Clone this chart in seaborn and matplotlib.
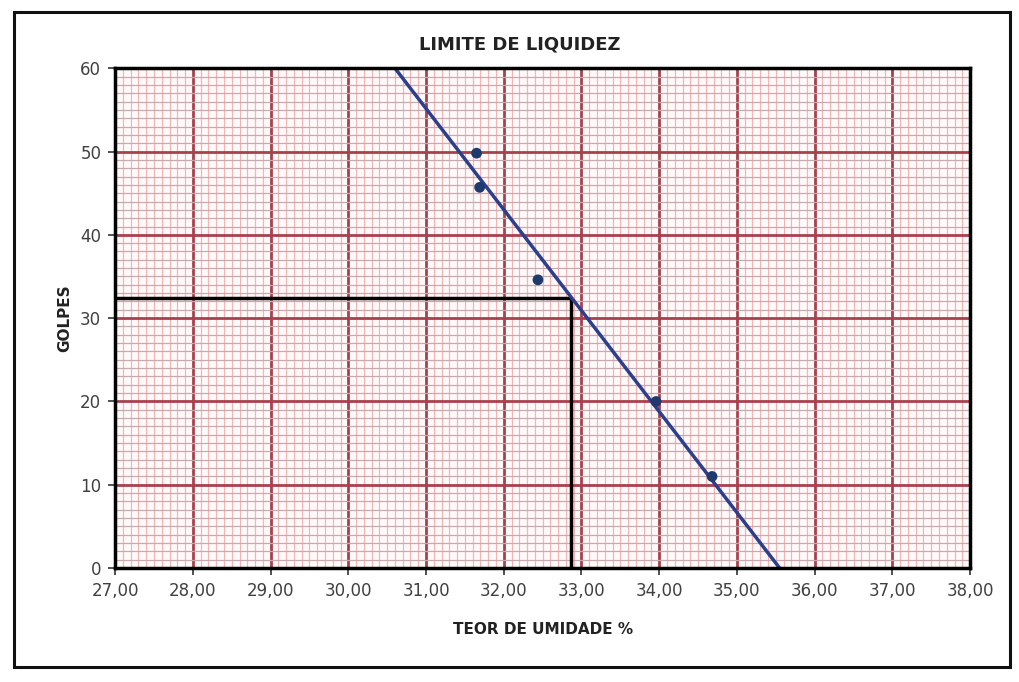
import matplotlib
matplotlib.use("Agg")
import matplotlib.pyplot as plt
from matplotlib.ticker import MultipleLocator, FuncFormatter
from matplotlib.patches import Rectangle
import seaborn as sns
import pandas as pd

# Data
umidade = [31.65, 31.69, 32.44, 33.96, 34.68]
golpes = [49.8, 45.7, 34.6, 20.0, 11.0]

trend_x = [30.60, 35.55]
trend_y = [60.0, 0.0]

guide_x = [27.00, 32.87, 32.87]
guide_y = [32.4, 32.4, 0.0]

x_ticks = [27, 28, 29, 30, 31, 32, 33, 34, 35, 36, 37, 38]
y_ticks = [0, 10, 20, 30, 40, 50, 60]

title = "LIMITE DE LIQUIDEZ"
xlabel = "TEOR DE UMIDADE %"
ylabel = "GOLPES"

sns.set_theme(style="white")
plt.rcParams['font.family'] = ['DejaVu Sans']

fig = plt.figure(figsize=(10.19, 6.82), dpi=100)
ax = fig.add_axes([0.113, 0.167, 0.839, 0.733])

df_pts = pd.DataFrame({"x": umidade, "y": golpes})
df_trend = pd.DataFrame({"x": trend_x, "y": trend_y})
df_guide = pd.DataFrame({"x": guide_x, "y": guide_y})

ax.set_xlim(x_ticks[0], x_ticks[-1])
ax.set_ylim(y_ticks[0], y_ticks[-1])

# graph paper grid
ax.xaxis.set_major_locator(MultipleLocator(1))
ax.yaxis.set_major_locator(MultipleLocator(10))
ax.xaxis.set_minor_locator(MultipleLocator(0.1))
ax.yaxis.set_minor_locator(MultipleLocator(1))
ax.grid(which="minor", axis="x", color="#f5b4b4", lw=0.9, zorder=0)
ax.grid(which="minor", axis="y", color="#c9a9b0", lw=0.9, zorder=0)
ax.grid(which="major", axis="both", color="#a8404e", lw=2.0, zorder=0.5)
ax.set_axisbelow(True)
ax.set_facecolor("#fffafa")

sns.lineplot(data=df_guide, x="x", y="y", color="black", lw=2.5, sort=False,
             estimator=None, ax=ax, zorder=3)
sns.lineplot(data=df_trend, x="x", y="y", color="#2c3f8c", lw=2.5,
             estimator=None, ax=ax, zorder=4)
sns.scatterplot(data=df_pts, x="x", y="y", color="#1f3b6e", s=60,
                edgecolor="none", ax=ax, zorder=5)

ax.set_xticks(x_ticks)
ax.set_yticks(y_ticks)
ax.xaxis.set_major_formatter(FuncFormatter(lambda v, p: f"{v:.2f}".replace(".", ",")))
ax.tick_params(axis="both", which="major", direction="out", length=5, width=1.2,
               color="#333333", labelsize=12, labelcolor="#404040", pad=5,
               bottom=True, left=True)
ax.tick_params(axis="both", which="minor", length=0)

for s in ax.spines.values():
    s.set_color("black")
    s.set_linewidth(2.5)
    s.set_zorder(6)

ax.set_xlabel(xlabel, fontsize=11, fontweight="bold", color="#222222", labelpad=16)
ax.set_ylabel(ylabel, fontsize=11, fontweight="bold", color="#222222", labelpad=6)
fig.text(0.51, 0.935, title, ha="center", va="center", fontsize=13,
         fontweight="bold", color="#222222")

fig.add_artist(Rectangle((0.014, 0.022), 0.977, 0.96, transform=fig.transFigure,
                         fill=False, lw=2.2, edgecolor="#111111"))

fig.savefig("out.png", dpi=100, facecolor="white")
